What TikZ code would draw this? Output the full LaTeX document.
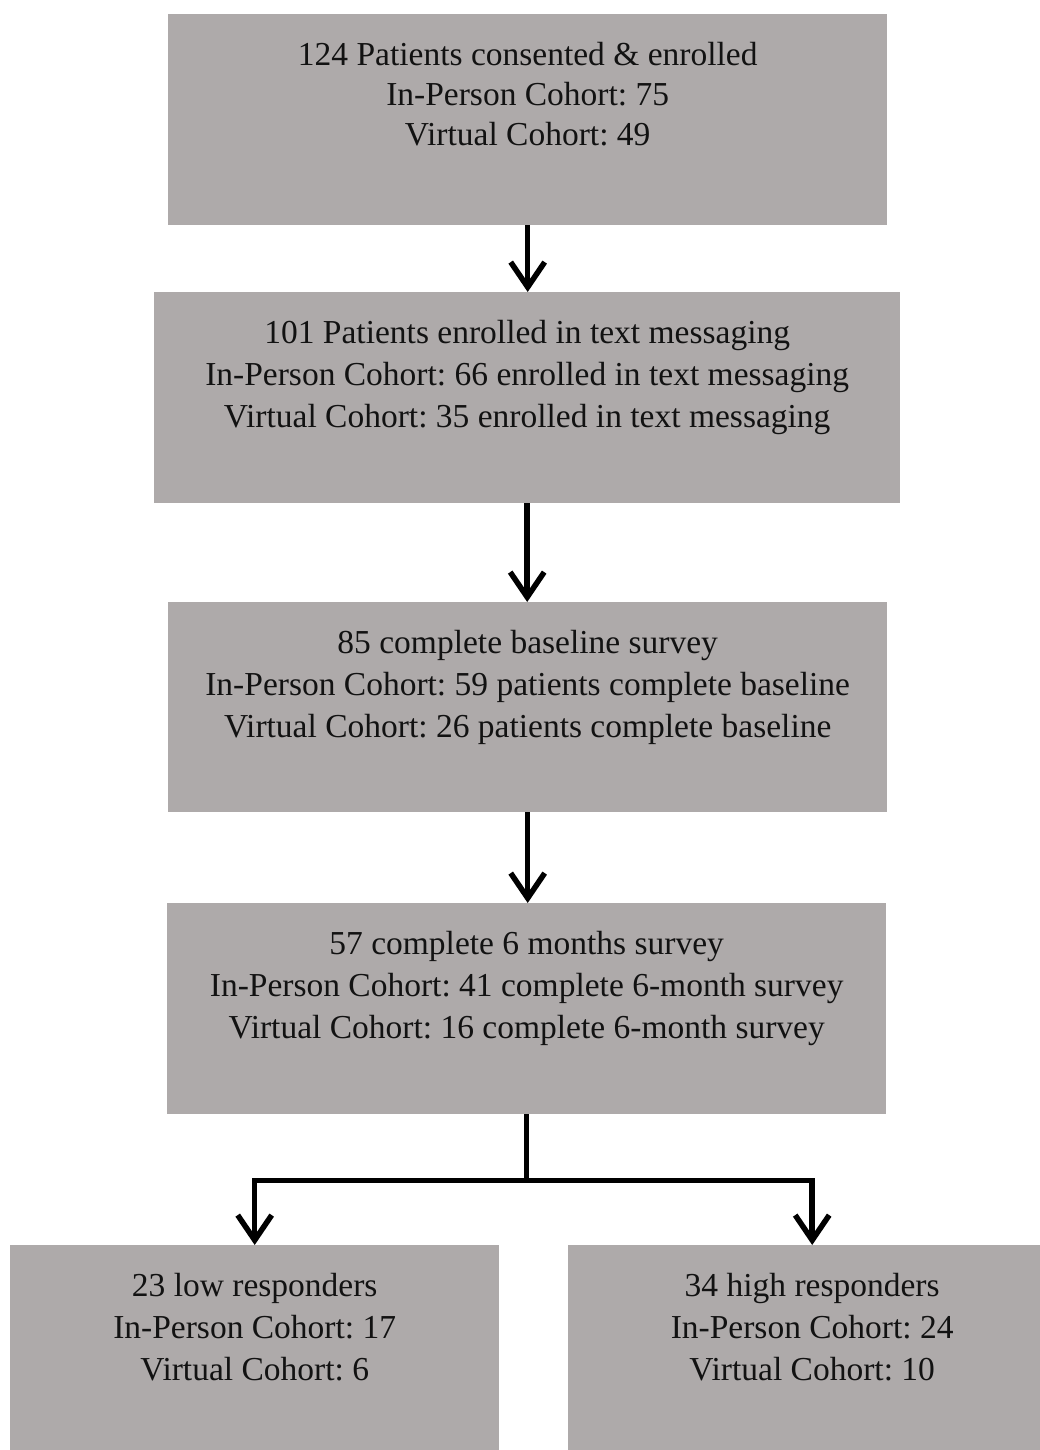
\documentclass[tikz,border=0pt]{standalone}
\usepackage{fontspec}
\setmainfont{Liberation Serif}
\usetikzlibrary{arrows.meta,calc}
\definecolor{boxgray}{HTML}{AEAAAA}
\frenchspacing
\begin{document}
\begin{tikzpicture}[x=1pt,y=-1pt,
  box/.style={fill=boxgray,draw=none,anchor=north west,inner sep=0pt},
  boxtext/.style={anchor=north,inner sep=0pt,align=center,text=black!93,
    font=\fontsize{33.5}{42}\selectfont},
  conn/.style={line width=5.5pt,draw=black},
  arr/.style={conn,-{Straight Barb[length=25pt,width=34pt]}}]
\useasboundingbox (0,0) rectangle (1040,1450);
\clip (0,0) rectangle (1040,1450);

% boxes
\node[box,minimum width=719pt,minimum height=211pt] (b1) at (168,14) {};
\node[box,minimum width=746pt,minimum height=211pt] (b2) at (154,292) {};
\node[box,minimum width=719pt,minimum height=210pt] (b3) at (168,602) {};
\node[box,minimum width=719pt,minimum height=211pt] (b4) at (167,903) {};
\node[box,minimum width=489pt,minimum height=230pt] (b5) at (10,1245) {};
\node[box,minimum width=488pt,minimum height=230pt] (b6) at (568,1245) {};

% texts
\node[boxtext,font=\fontsize{33.5}{40}\selectfont] (t1) at ($(b1.north)+(0,28)$)
  {124 Patients consented \& enrolled\\In-Person Cohort: 75\\Virtual Cohort: 49};
\node[boxtext] (t2) at ($(b2.north)+(0,28)$)
  {101 Patients enrolled in text messaging\\In-Person Cohort: 66 enrolled in text messaging\\Virtual Cohort: 35 enrolled in text messaging};
\node[boxtext] (t3) at ($(b3.north)+(0,28)$)
  {85 complete baseline survey\\In-Person Cohort: 59 patients complete baseline\\Virtual Cohort: 26 patients complete baseline};
\node[boxtext] (t4) at ($(b4.north)+(0,28)$)
  {57 complete 6 months survey\\In-Person Cohort: 41 complete 6-month survey\\Virtual Cohort: 16 complete 6-month survey};
\node[boxtext] (t5) at ($(b5.north)+(0,28)$)
  {23 low responders\\In-Person Cohort: 17\\Virtual Cohort: 6};
\node[boxtext] (t6) at ($(b6.north)+(0,28)$)
  {34 high responders\\In-Person Cohort: 24\\Virtual Cohort: 10};

% connectors
\draw[arr] (b1.south) -- (b1.south |- b2.north);
\draw[arr] (b2.south) -- (b2.south |- b3.north);
\draw[arr] (b3.south) -- (b3.south |- b4.north);
\coordinate (split) at ($(b4.south)+(0,66)$);
\draw[conn] (b4.south) -- (split);
\draw[arr,line join=miter] (split) -| (b5.north);
\draw[arr,line join=miter] (split) -| (b6.north);
\end{tikzpicture}
\end{document}
